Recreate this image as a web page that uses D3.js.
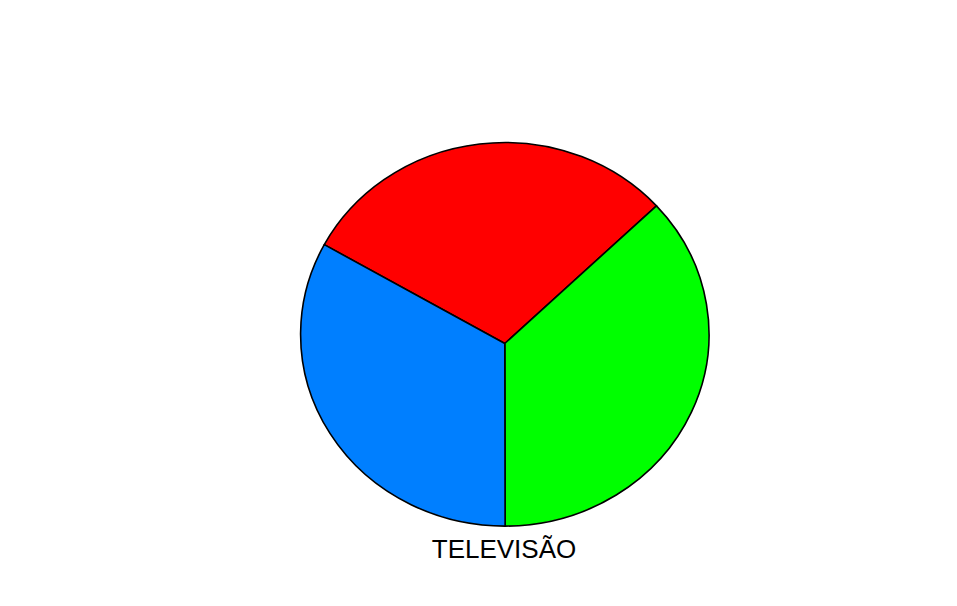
<!DOCTYPE html>
<html>
<head>
<meta charset="utf-8">
<script src="https://cdn.jsdelivr.net/npm/d3@7"></script>
<style>
  body { margin: 0; background: #fff; }
</style>
</head>
<body>
<script>
// slice data, clockwise from the red slice
const categories = ["A", "B", "C"];
const values = [30.3, 36.7, 33.0];
const colors = ["#ff0000", "#00ff00", "#007fff"];
const title = "TELEVISÃO";

function main(){
    const width = 957;
    const height = 606;

    const svg = d3.select("body").append("svg")
        .attr("width", width)
        .attr("height", height);

    // outline is a slightly flattened ellipse, and the slices meet a bit below its centre
    const cx = 504.8, cy = 334.3, rx = 204.2, ry = 191.8;
    const mx = 504.8, my = 343.5;

    const pie = d3.pie()
        .sort(null)
        .startAngle(-61.3 * Math.PI / 180)
        .endAngle((360 - 61.3) * Math.PI / 180);

    const color = d3.scaleOrdinal().domain(categories).range(colors);

    const slices = pie(values).map(function(d, i){ d.cat = categories[i]; return d; });

    // where a ray from the meeting point hits the ellipse
    function edgePoint(a){
        const dx = Math.sin(a), dy = -Math.cos(a);
        const ox = (mx - cx) / rx, oy = (my - cy) / ry;
        const ux = dx / rx, uy = dy / ry;
        const A = ux*ux + uy*uy, B = 2*(ox*ux + oy*uy), C = ox*ox + oy*oy - 1;
        const t = (-B + Math.sqrt(B*B - 4*A*C)) / (2*A);
        return [mx + t*dx, my + t*dy];
    }

    function slicePath(d){
        const p1 = edgePoint(d.startAngle);
        const p2 = edgePoint(d.endAngle);
        const large = (d.endAngle - d.startAngle) > Math.PI ? 1 : 0;
        return "M" + mx + "," + my +
            "L" + p1[0] + "," + p1[1] +
            "A" + rx + "," + ry + " 0 " + large + " 1 " + p2[0] + "," + p2[1] + "Z";
    }

    svg.selectAll(".slice")
        .data(slices)
        .enter().append("path")
        .attr("class", "slice")
        .attr("d", slicePath)
        .attr("fill", function(d){ return color(d.cat); })
        .attr("stroke", "#000")
        .attr("stroke-width", 1.6)
        .attr("stroke-linejoin", "round");

    svg.append("text")
        .attr("x", 504)
        .attr("y", 558)
        .attr("text-anchor", "middle")
        .style("font-family", "'Liberation Sans', Arial, sans-serif")
        .style("font-size", "26px")
        .attr("fill", "#000")
        .text(title);
}
main();
</script>
</body>
</html>
